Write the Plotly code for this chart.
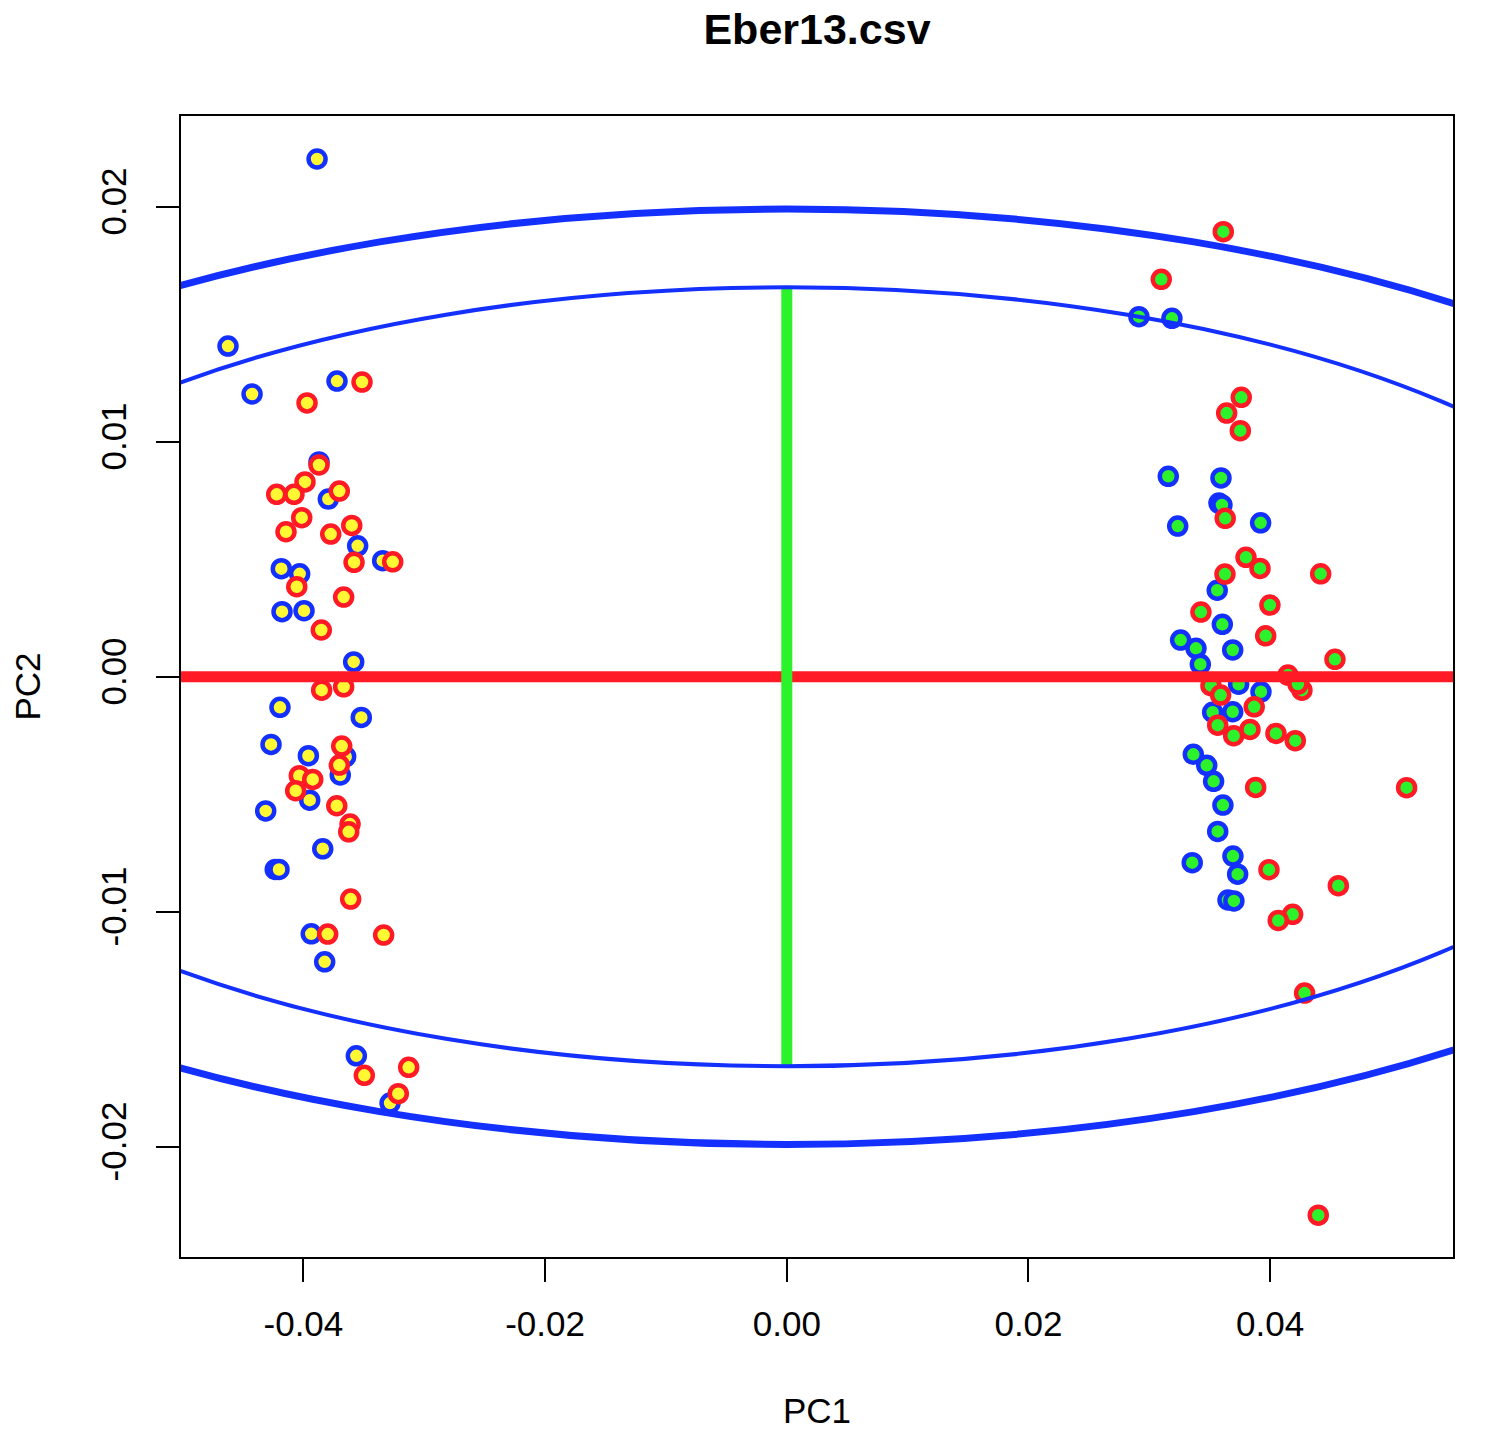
"""
PCA scatter (PC1 vs PC2) for Eber13.csv with confidence ellipses and axis guides.
"""

import plotly.graph_objects as go

# ---- data ----
# left cluster (yellow fill), blue-ringed samples
left_blue_pc1 = [-0.03887, -0.04624, -0.04425, -0.03722, -0.03871, -0.03794, -0.03551,
                 -0.03344, -0.04183, -0.04031, -0.04177, -0.03995, -0.03584, -0.04194,
                 -0.03521, -0.04268, -0.03959, -0.03650, -0.03695, -0.03948, -0.04312,
                 -0.03840, -0.04233, -0.04202, -0.03935, -0.03824, -0.03562, -0.03283]
left_blue_pc2 = [0.02203, 0.01407, 0.01203, 0.01258, 0.00914, 0.00756, 0.00557,
                 0.00494, 0.00460, 0.00438, 0.00277, 0.00281, 0.00063, -0.00130,
                 -0.00173, -0.00288, -0.00336, -0.00340, -0.00418, -0.00525, -0.00571,
                 -0.00732, -0.00820, -0.00820, -0.01094, -0.01213, -0.01613, -0.01814]

# left cluster (yellow fill), red-ringed samples
left_red_pc1 = [-0.03970, -0.03515, -0.03871, -0.03987, -0.04221, -0.04078, -0.03703,
                -0.04014, -0.04144, -0.03774, -0.03600, -0.03581, -0.03261, -0.04055,
                -0.03667, -0.03852, -0.03849, -0.03667, -0.03683, -0.03703, -0.04034,
                -0.03923, -0.04064, -0.03724, -0.03614, -0.03625, -0.03609, -0.03799,
                -0.03336, -0.03496, -0.03129, -0.03215]
left_red_pc2 = [0.01165, 0.01254, 0.00901, 0.00829, 0.00776, 0.00776, 0.00790,
                0.00677, 0.00617, 0.00607, 0.00644, 0.00487, 0.00489, 0.00383,
                0.00339, 0.00199, -0.00057, -0.00043, -0.00295, -0.00376, -0.00421,
                -0.00437, -0.00485, -0.00549, -0.00627, -0.00660, -0.00946, -0.01095,
                -0.01099, -0.01696, -0.01662, -0.01774]

# right cluster (green fill), blue-ringed samples
right_blue_pc1 = [0.02914, 0.03187, 0.03157, 0.03593, 0.03576, 0.03601, 0.03235,
                  0.03921, 0.03562, 0.03604, 0.03259, 0.03386, 0.03690, 0.03422,
                  0.03739, 0.03924, 0.03524, 0.03690, 0.03364, 0.03475, 0.03532,
                  0.03609, 0.03566, 0.03692, 0.03355, 0.03731, 0.03651, 0.03700]
right_blue_pc2 = [0.01532, 0.01525, 0.00853, 0.00846, 0.00739, 0.00731, 0.00641,
                  0.00655, 0.00368, 0.00223, 0.00156, 0.00121, 0.00114, 0.00053,
                  -0.00032, -0.00064, -0.00151, -0.00149, -0.00330, -0.00377, -0.00445,
                  -0.00546, -0.00658, -0.00763, -0.00791, -0.00840, -0.00950, -0.00954]

# right cluster (green fill), red-ringed samples
right_red_pc1 = [0.03612, 0.03099, 0.03761, 0.03640, 0.03753, 0.03628, 0.03800,
                 0.03916, 0.03626, 0.04418, 0.03998, 0.03427, 0.03963, 0.04536,
                 0.04147, 0.04263, 0.04230, 0.03510, 0.03590, 0.03868, 0.03566,
                 0.03698, 0.03833, 0.04048, 0.04208, 0.03880, 0.05129, 0.03990,
                 0.04564, 0.04186, 0.04067, 0.04285, 0.04398]
right_red_pc2 = [0.01894, 0.01691, 0.01189, 0.01122, 0.01047, 0.00674, 0.00508,
                 0.00461, 0.00437, 0.00438, 0.00305, 0.00275, 0.00174, 0.00074,
                 0.00007, -0.00057, -0.00031, -0.00038, -0.00078, -0.00128, -0.00206,
                 -0.00251, -0.00224, -0.00241, -0.00272, -0.00471, -0.00472, -0.00821,
                 -0.00889, -0.01011, -0.01037, -0.01346, -0.02291]

# ellipse half-axes (inner, outer) and their line widths
ellipse_rx = [0.0766, 0.0915]
ellipse_ry = [0.01657, 0.0199]
ellipse_width = [4, 7]

# PC2 extent of the vertical guide at PC1 = 0
vline_pc2 = [-0.0166, 0.0166]

x_range = [-0.05013, 0.05513]
y_range = [-0.02469, 0.02386]
x_ticks = [-0.04, -0.02, 0.0, 0.02, 0.04]
x_tick_labels = ["-0.04", "-0.02", "0.00", "0.02", "0.04"]
y_ticks = [-0.02, -0.01, 0.0, 0.01, 0.02]
y_tick_labels = ["-0.02", "-0.01", "0.00", "0.01", "0.02"]

BLUE = "#1330FF"
RED = "#FF1A26"
GREEN = "#2CF22C"
YELLOW = "#FFF833"
FONT = "Liberation Sans, Arial, Helvetica, sans-serif"

fig = go.Figure()

groups = [
    (left_blue_pc1, left_blue_pc2, BLUE, YELLOW),
    (left_red_pc1, left_red_pc2, RED, YELLOW),
    (right_blue_pc1, right_blue_pc2, BLUE, GREEN),
    (right_red_pc1, right_red_pc2, RED, GREEN),
]
for xs, ys, ring, fill in groups:
    fig.add_trace(go.Scatter(
        x=xs, y=ys, mode="markers",
        marker=dict(size=17, color=fill, line=dict(color=ring, width=4.5)),
        showlegend=False, hoverinfo="x+y",
    ))

# horizontal guide (abline h=0), then vertical guide, then ellipses on top
fig.add_shape(type="line", xref="x domain", yref="y", x0=0, x1=1, y0=0, y1=0,
              line=dict(color=RED, width=11), layer="above")
fig.add_shape(type="line", xref="x", yref="y", x0=0, x1=0,
              y0=vline_pc2[0], y1=vline_pc2[1],
              line=dict(color=GREEN, width=11), layer="above")
for rx, ry, w in zip(ellipse_rx, ellipse_ry, ellipse_width):
    fig.add_shape(type="circle", xref="x", yref="y",
                  x0=-rx, x1=rx, y0=-ry, y1=ry,
                  line=dict(color=BLUE, width=w), layer="above")

axis_common = dict(
    showgrid=False, zeroline=False,
    showline=True, linecolor="black", linewidth=2, mirror=True,
    ticks="outside", ticklen=23, tickwidth=2, tickcolor="black",
    tickfont=dict(family=FONT, size=35, color="black"),
)

fig.update_xaxes(
    range=x_range, tickvals=x_ticks, ticktext=x_tick_labels,
    ticklabelstandoff=12,
    title=dict(text="PC1", font=dict(family=FONT, size=35, color="black"), standoff=56),
    **axis_common,
)
fig.update_yaxes(
    range=y_range, tickvals=y_ticks, ticktext=y_tick_labels, tickangle=-90,
    ticklabelstandoff=16,
    title=dict(text="PC2", font=dict(family=FONT, size=35, color="black"), standoff=50),
    **axis_common,
)

fig.update_layout(
    width=1490, height=1456,
    margin=dict(l=173, r=45, t=108, b=207),
    paper_bgcolor="white", plot_bgcolor="white",
    title=dict(text="<b>Eber13.csv</b>", x=0.5, xref="paper",
               y=1, yref="container", yanchor="top", pad=dict(t=6),
               font=dict(family=FONT, size=43, color="black")),
)

fig.write_html("out.html")
